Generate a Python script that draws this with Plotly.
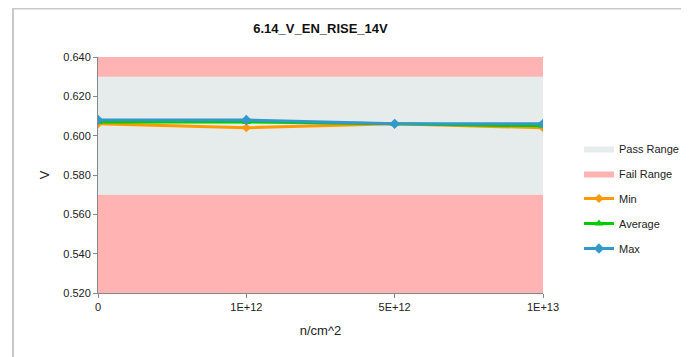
import plotly.graph_objects as go

categories = ["0", "1E+12", "5E+12", "1E+13"]
min_vals = [0.606, 0.604, 0.606, 0.604]
avg_vals = [0.607, 0.607, 0.606, 0.605]
max_vals = [0.608, 0.608, 0.606, 0.606]
pass_lo, pass_hi = 0.57, 0.63
y_min, y_max = 0.52, 0.64
y_ticks = [0.52, 0.54, 0.56, 0.58, 0.60, 0.62, 0.64]

# page body has an 8px margin, so the figure starts at (8, 8)
OFF = 8
W, H = 689 - OFF, 357 - OFF
L, T = 98 - OFF, 57 - OFF
pw, ph = 445, 236
R = W - L - pw
B = H - T - ph
xs = list(range(len(categories)))
x0, x1 = xs[0], xs[-1]

fig = go.Figure()
fig.add_trace(go.Scatter(
    x=[x0, x1, x1, x0, x0], y=[pass_lo, pass_lo, pass_hi, pass_hi, pass_lo],
    fill="toself", fillcolor="#E6EBEB", line=dict(width=0, color="#E6EBEB"),
    mode="lines", name="Pass Range", legendgroup="a", hoverinfo="skip"))
fig.add_trace(go.Scatter(
    x=[x0, x1, x1, x0, x0, None, x0, x1, x1, x0, x0],
    y=[y_min, y_min, pass_lo, pass_lo, y_min, None, pass_hi, pass_hi, y_max, y_max, pass_hi],
    fill="toself", fillcolor="#FFB3B3", line=dict(width=0, color="#FFB3B3"),
    mode="lines", name="Fail Range", legendgroup="b", hoverinfo="skip"))
fig.add_trace(go.Scatter(x=xs, y=min_vals, name="Min", mode="lines+markers", legendgroup="c",
                         line=dict(color="#FF9900", width=3),
                         marker=dict(symbol="diamond", size=7, color="#FF9900")))
fig.add_trace(go.Scatter(x=xs, y=avg_vals, name="Average", mode="lines+markers", legendgroup="d",
                         line=dict(color="#00CC00", width=3),
                         marker=dict(symbol="triangle-up", size=8, color="#00CC00")))
fig.add_trace(go.Scatter(x=xs, y=max_vals, name="Max", mode="lines+markers", legendgroup="e",
                         line=dict(color="#3399CC", width=3),
                         marker=dict(symbol="diamond", size=8, color="#3399CC")))

# border: left edge at screen x=13, top edge at top of figure
bx = (13 - OFF - L) / pw
fig.update_layout(
    width=W, height=H,
    margin=dict(l=L, r=R, t=T, b=B, autoexpand=False),
    paper_bgcolor="white", plot_bgcolor="white",
    font=dict(family="Liberation Sans, Arial, sans-serif", size=11, color="#222"),
    title=dict(text="<b>6.14_V_EN_RISE_14V</b>", x=(L + pw / 2) / W,
               xanchor="center", y=1 - 20 / H, yanchor="middle", font=dict(size=13, color="#111")),
    showlegend=True,
    legend=dict(x=1 + 36 / pw, y=1 - (134 - 57) / ph, xanchor="left", yanchor="top",
                font=dict(size=11), tracegroupgap=6, itemwidth=30,
                bgcolor="rgba(0,0,0,0)"),
    xaxis=dict(range=[x0, x1], tickvals=xs, ticktext=categories, showgrid=False, zeroline=False,
               automargin=False,
               showline=True, linecolor="#888", ticks="outside", ticklen=4, tickcolor="#888",
               title=dict(text="n/cm^2", font=dict(size=13), standoff=13)),
    yaxis=dict(range=[y_min, y_max], tickvals=y_ticks, tickformat=".3f", showgrid=False, zeroline=False,
               automargin=False,
               showline=True, linecolor="#888", ticks="outside", ticklen=4, tickcolor="#888",
               title=dict(text="V", font=dict(size=13), standoff=10)),
    shapes=[
        dict(type="line", xref="paper", yref="paper", x0=bx, x1=bx,
             y0=-B / ph, y1=1 + T / ph, line=dict(color="#C8C8C8", width=2)),
        dict(type="line", xref="paper", yref="paper", x0=bx, x1=1 + R / pw,
             y0=1 + (T - 0.5) / ph, y1=1 + (T - 0.5) / ph, line=dict(color="#C8C8C8", width=2)),
    ],
)
fig.write_html("out.html")
